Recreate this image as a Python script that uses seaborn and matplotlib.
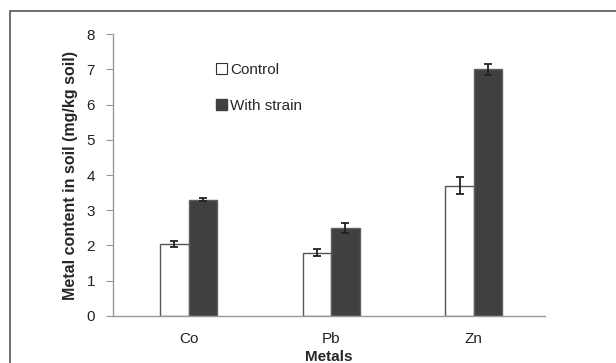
import pandas as pd
import matplotlib
matplotlib.use("Agg")
import matplotlib.pyplot as plt
import seaborn as sns
from matplotlib.patches import Rectangle, Patch

metals = ["Co", "Pb", "Zn"]
control = [2.05, 1.80, 3.70]
control_err = [0.08, 0.10, 0.25]
strain = [3.30, 2.50, 7.00]
strain_err = [0.05, 0.15, 0.15]
groups = ["Control", "With strain"]

df = pd.DataFrame({
    "Metals": metals * 2,
    "value": control + strain,
    "err": control_err + strain_err,
    "group": [groups[0]] * 3 + [groups[1]] * 3,
})

sns.set_style("white")
plt.rcParams['font.family'] = ['Liberation Sans', 'DejaVu Sans']

fig = plt.figure(figsize=(6.16, 3.63), dpi=100)
ax = fig.add_axes([0.1834, 0.1295, 0.7016, 0.7768])

sns.barplot(data=df, x="Metals", y="value", hue="group", hue_order=groups,
            palette={"Control": "white", "With strain": "#404040"},
            width=0.4, errorbar=None, legend=False, ax=ax)

# bar edges and error bars
bar_containers = list(ax.containers)
for i, cont in enumerate(bar_containers):
    g = groups[i]
    sub = df[df["group"] == g].reset_index(drop=True)
    for j, p in enumerate(cont.patches):
        p.set_edgecolor("#555555" if g == "Control" else "#606060")
        p.set_linewidth(1.0)
        xc = p.get_x() + p.get_width() / 2
        ax.errorbar(xc, sub.loc[j, "value"], yerr=sub.loc[j, "err"],
                    fmt="none", ecolor="#222222", elinewidth=1.3,
                    capsize=3, capthick=1.3, zorder=5)

ax.set_xlim(-0.53, 2.5)
ax.set_ylim(0, 8)
ax.set_yticks(range(0, 9))
ax.tick_params(axis="y", left=True, length=5, width=0.8, color="#999999",
               labelsize=11, pad=8, labelcolor="#222222")
ax.tick_params(axis="x", bottom=False, labelsize=11, pad=8, labelcolor="#222222")
for s in ["top", "right"]:
    ax.spines[s].set_visible(False)
for s in ["left", "bottom"]:
    ax.spines[s].set_color("#999999")
    ax.spines[s].set_linewidth(1.0)

ax.set_ylabel("Metal content in soil (mg/kg soil)", fontsize=11.5,
              fontweight="bold", labelpad=6)
ax.set_xlabel("Metals", fontsize=11, fontweight="bold", labelpad=3)

handles = [Patch(facecolor="white", edgecolor="#333333", linewidth=0.8),
           Patch(facecolor="#404040", edgecolor="#404040")]
ax.legend(handles, groups, loc="upper left", bbox_to_anchor=(0.22, 0.925),
          frameon=False, fontsize=11, handlelength=0.75, handleheight=0.75,
          handletextpad=0.2, labelspacing=1.45, borderpad=0)

# outer chart border
fig.patches.append(Rectangle((10 / 616, -0.01), 1.0, 1 - 11 / 363 + 0.01,
                             transform=fig.transFigure, fill=False,
                             edgecolor="#555555", linewidth=1.2))

fig.savefig("out.png", dpi=100)
